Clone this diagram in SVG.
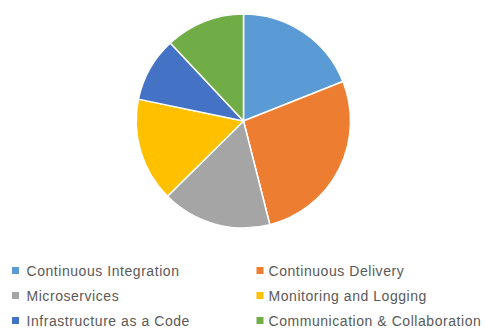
<svg xmlns="http://www.w3.org/2000/svg" width="485" height="328" viewBox="0 0 485 328">
<style>
.slice{stroke:#fff;stroke-width:1.5;stroke-linejoin:round}
.lbl{font-family:"Liberation Sans",Arial,sans-serif;font-size:14px;letter-spacing:0.55px;fill:#595959}
</style>
<rect width="485" height="328" fill="#fff"/>
<g id="pie">
<g id="slice-ci"><path class="slice" fill="#5B9BD5" d="M243.5,121 L243.5,14 A107,107 0 0 1 342.93,81.47 Z"/></g>
<g id="slice-cd"><path class="slice" fill="#ED7D31" d="M243.5,121 L342.93,81.47 A107,107 0 0 1 269.86,224.70 Z"/></g>
<g id="slice-ms"><path class="slice" fill="#A5A5A5" d="M243.5,121 L269.86,224.70 A107,107 0 0 1 167.52,196.32 Z"/></g>
<g id="slice-ml"><path class="slice" fill="#FFC000" d="M243.5,121 L167.52,196.32 A107,107 0 0 1 138.40,99.14 Z"/></g>
<g id="slice-iac"><path class="slice" fill="#4472C4" d="M243.5,121 L138.40,99.14 A107,107 0 0 1 170.31,42.94 Z"/></g>
<g id="slice-cc"><path class="slice" fill="#70AD47" d="M243.5,121 L170.31,42.94 A107,107 0 0 1 243.5,14 Z"/></g>
</g>
<g id="legend">
<g id="leg-ci"><rect x="12" y="267" width="7" height="7" fill="#5B9BD5"/><text class="lbl" x="26.5" y="275.5">Continuous Integration</text></g>
<g id="leg-cd"><rect x="256.5" y="267" width="7" height="7" fill="#ED7D31"/><text class="lbl" x="268.5" y="275.5">Continuous Delivery</text></g>
<g id="leg-ms"><rect x="12" y="292" width="7" height="7" fill="#A5A5A5"/><text class="lbl" x="26.5" y="300.7">Microservices</text></g>
<g id="leg-ml"><rect x="256.5" y="292" width="7" height="7" fill="#FFC000"/><text class="lbl" x="268.5" y="300.7">Monitoring and Logging</text></g>
<g id="leg-iac"><rect x="12" y="317" width="7" height="7" fill="#4472C4"/><text class="lbl" x="26.5" y="325.7">Infrastructure as a Code</text></g>
<g id="leg-cc"><rect x="256.5" y="317" width="7" height="7" fill="#70AD47"/><text class="lbl" x="268.5" y="325.7">Communication &amp; Collaboration</text></g>
</g>
</svg>
